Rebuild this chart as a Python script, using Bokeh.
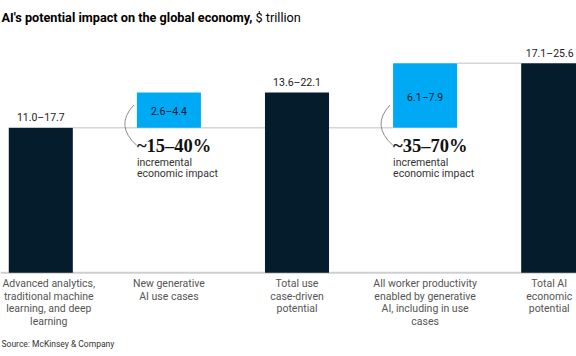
from bokeh.plotting import figure
from bokeh.models import Range1d, ColumnDataSource
from bokeh.core.properties import value
from bokeh.embed import file_html
from bokeh.resources import INLINE

# ---------------- data ----------------
categories = [
    "Advanced analytics,\ntraditional machine\nlearning, and deep\nlearning",
    "New generative\nAI use cases",
    "Total use\ncase-driven\npotential",
    "All worker productivity\nenabled by generative\nAI, including in use\ncases",
    "Total AI\neconomic\npotential",
]
value_labels = ["11.0–17.7", "2.6–4.4", "13.6–22.1", "6.1–7.9", "17.1–25.6"]
bar_bottom = [0, 14.35, 0, 14.35, 0]
bar_top = [14.35, 17.85, 17.85, 20.75, 20.75]
bar_kind = ["total", "increment", "total", "increment", "total"]
increment_share = ["~15–40%", "~35–70%"]
increment_index = [1, 3]
increment_note = ["incremental", "economic impact"]
title_bold = "AI's potential impact on the global economy,"
title_unit = "$ trillion"
source_text = "Source: McKinsey & Company"

# ---------------- layout helpers ----------------
W, H = 576, 356
X0, STEP = 40.3, 128.1      # pixel centre of first bar, pixel step
Y0, K = 272.3, 10.1         # pixel of baseline, pixels per unit


def X(px):
    return (px - X0) / STEP


def Y(py):
    return (Y0 - py) / K


NAVY = "#051C2C"
CYAN = "#00A9F4"
GRID = "#d6d6d6"
SANS = value("Roboto")

p = figure(width=W, height=H, output_backend="svg", toolbar_location=None,
           x_range=Range1d(X(0), X(W)), y_range=Range1d(Y(H), Y(0)),
           x_axis_type=None, y_axis_type=None, min_border=0)
p.min_border_left = p.min_border_right = p.min_border_top = p.min_border_bottom = 0
p.outline_line_color = None
p.grid.visible = False
p.background_fill_color = "white"
p.border_fill_color = "white"

n = len(categories)
idx = list(range(n))
half = 0.25

# baseline
p.line([X(0), X(W)], [0, 0], line_color="#cfcfcf", line_width=2)
# connector lines
p.line([idx[0] + half, idx[3] - half], [bar_top[0], bar_top[0]], line_color=GRID, line_width=1.5)
p.line([idx[3] + half, idx[4] - half], [bar_top[3], bar_top[3]], line_color=GRID, line_width=1.5)

colors = [NAVY if k == "total" else CYAN for k in bar_kind]
src = ColumnDataSource(dict(x=idx, bottom=bar_bottom, top=bar_top, color=colors))
p.vbar(x="x", bottom="bottom", top="top", width=0.5, fill_color="color",
       line_color=None, source=src)

# horizontal nudges (pixels) so edge texts stay inside the picture
edge_shift = [8, 0, 0, 0, -4]
value_shift = [0, 0, 0, 0, -3.5]

# value labels
tot = [i for i in idx if bar_kind[i] == "total"]
inc = [i for i in idx if bar_kind[i] == "increment"]
p.text(x=[idx[i] + value_shift[i] / STEP for i in tot], y=[bar_top[i] for i in tot],
       text=[value_labels[i] for i in tot],
       text_align="center", text_baseline="middle", y_offset=-10,
       text_font=SANS, text_font_size="10.5px", text_color="#1a1a1a")
p.text(x=[idx[i] for i in inc], y=[(bar_bottom[i] + bar_top[i]) / 2 for i in inc],
       text=[value_labels[i] for i in inc],
       text_align="center", text_baseline="middle", y_offset=1.5,
       text_font=SANS, text_font_size="10.5px", text_color="#0b1a26")

# category labels (one glyph per line)
lx, ly, lt = [], [], []
for i, c in enumerate(categories):
    for j, line in enumerate(c.split("\n")):
        lx.append(idx[i] + edge_shift[i] / STEP)
        ly.append(Y(283 + 12.5 * j))
        lt.append(line)
p.text(x=lx, y=ly, text=lt, text_align="center", text_baseline="middle",
       text_font=SANS, text_font_size="10.5px", text_color="#555555")

# incremental annotations
for share, i in zip(increment_share, increment_index):
    left = idx[i] - half
    p.quadratic(x0=[left + X(X0 - 3)], y0=[Y(104.5)],
                x1=[left + X(X0 + 0)], y1=[Y(145)],
                cx=[left + X(X0 - 22.5)], cy=[Y(125)],
                line_color="#8a8a8a", line_width=1)
    p.text(x=[left], y=[Y(145.5)], text=[share], text_align="left", text_baseline="middle",
           text_font=value("Liberation Serif"), text_font_style="bold",
           text_font_size="18.5px", text_color="#111111")
    p.text(x=[left, left], y=[Y(161.7), Y(173.3)], text=increment_note,
           text_align="left", text_baseline="middle",
           text_font=SANS, text_font_size="10.5px", text_color="#333333")

# title
p.text(x=[X(1)], y=[Y(16.5)], text=[title_bold], text_align="left", text_baseline="middle",
       text_font=SANS, text_font_style="bold", text_font_size="12.7px", text_color="#000000")
p.text(x=[X(255)], y=[Y(16.5)], text=[title_unit], text_align="left", text_baseline="middle",
       text_font=SANS, text_font_size="12.7px", text_color="#000000")

# source
p.text(x=[X(1)], y=[Y(343)], text=[source_text], text_align="left", text_baseline="middle",
       text_font=SANS, text_font_size="8.5px", text_color="#333333")

open("out.html", "w").write(file_html(p, INLINE))
